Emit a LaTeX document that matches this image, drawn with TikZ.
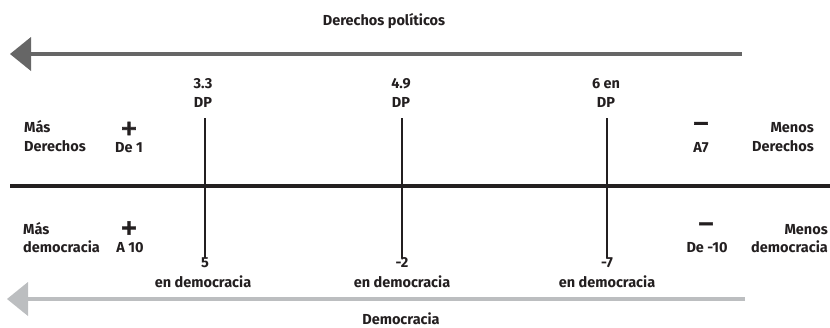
\documentclass[tikz,border=0pt]{standalone}
\usepackage{fontspec}
\setmainfont{Fira Sans}
\newfontfamily\symfont{DejaVu Sans}[FakeBold=3]
\definecolor{axisc}{HTML}{231F20}
\definecolor{darkarr}{HTML}{666666}
\definecolor{lightarr}{HTML}{BCBEC0}
\begin{document}
\begin{tikzpicture}[x=1pt,y=-1pt,
  lbl/.style={font=\fontsize{14.5}{16}\selectfont\bfseries, text=axisc, inner sep=0pt, anchor=base},
  sym/.style={font=\symfont\fontsize{21}{21}\selectfont\bfseries, text=axisc, inner sep=0pt},
  axisline/.style={line width=3.5pt, draw=axisc},
  tick/.style={line width=2.5pt, draw=axisc}]
\useasboundingbox (0,0) rectangle (830,327);
% top arrow
\coordinate (ta1) at (742,54);
\coordinate (ta2) at (30,54);
\draw[line width=4pt, darkarr] (ta1) -- (ta2);
\fill[darkarr] (10,54) -- (31,37) -- (31,71) -- cycle;
% bottom arrow
\coordinate (ba1) at (745,299);
\coordinate (ba2) at (27,299);
\draw[line width=4pt, lightarr] (ba1) -- (ba2);
\fill[lightarr] (7,299) -- (28,282) -- (28,316) -- cycle;
% main axis
\coordinate (axl) at (10,186);
\coordinate (axr) at (830,186);
\draw[axisline] (axl) -- (axr);
% ticks
\foreach \x/\n in {205/a,402/b,607/c}{
  \coordinate (t\n1) at (\x,118);
  \coordinate (t\n2) at (\x,258);
  \draw[tick] (t\n1) -- (t\n2);
}
% titles
\node[lbl] (title1) at (384,25) {Derechos políticos};
\node[lbl] (title2) at (401,324) {Democracia};
% top values
\node[lbl] (v1a) at (203,88) {3.3};
\node[lbl] (v1b) at (203,107) {DP};
\node[lbl] (v2a) at (401,88) {4.9};
\node[lbl] (v2b) at (401,107) {DP};
\node[lbl] (v3a) at (606,88) {6 en};
\node[lbl] (v3b) at (606,107) {DP};
% bottom values
\node[lbl] (w1a) at (205,267) {5};
\node[lbl] (w1b) at (203,287) {en democracia};
\node[lbl] (w2a) at (402,267) {-2};
\node[lbl] (w2b) at (402,287) {en democracia};
\node[lbl] (w3a) at (607,267) {-7};
\node[lbl] (w3b) at (607,287) {en democracia};
% left upper
\node[lbl, anchor=base west] (lu1) at (24,132) {Más};
\node[lbl, anchor=base west] (lu2) at (24,151) {Derechos};
\node[sym] (lup) at (129,128.5) {+};
\node[lbl] (lud) at (129,152) {De 1};
% right upper
\node[lbl, anchor=base east] (ru1) at (814,132) {Menos};
\node[lbl, anchor=base east] (ru2) at (814,151) {Derechos};
\node[sym] (rum) at (701,126) {−};
\node[lbl] (rud) at (701,152) {A7};
% left lower
\node[lbl, anchor=base west] (ll1) at (23,234) {Más};
\node[lbl, anchor=base west] (ll2) at (23,252) {democracia};
\node[sym] (llp) at (129,228) {+};
\node[lbl] (lld) at (130,252) {A 10};
% right lower
\node[lbl, anchor=base east] (rl1) at (828,234) {Menos};
\node[lbl, anchor=base east] (rl2) at (828,252) {democracia};
\node[sym] (rlm) at (706,226.5) {−};
\node[lbl] (rld) at (707,252) {De -10};
\end{tikzpicture}
\end{document}
